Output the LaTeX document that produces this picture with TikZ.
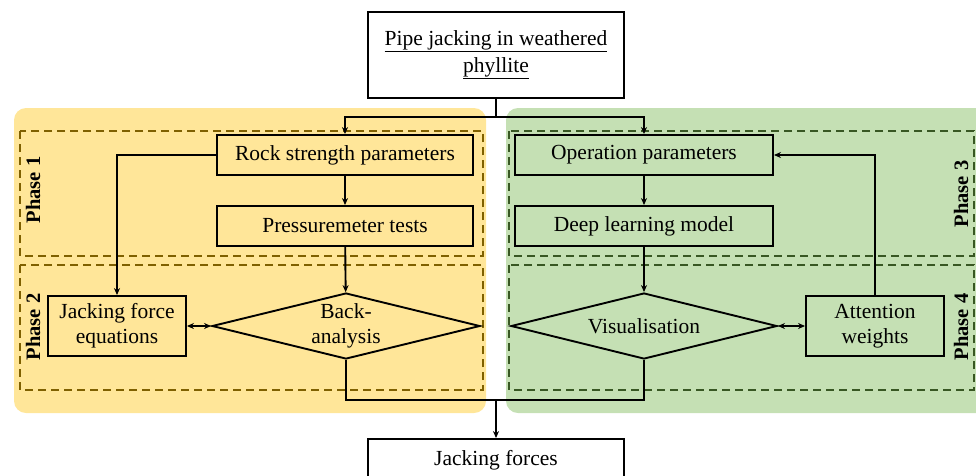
\documentclass[tikz,border=0pt]{standalone}
\usepackage{fontspec}
\setmainfont{Liberation Serif}
\usetikzlibrary{positioning,arrows.meta,shapes.geometric}
\definecolor{panelyellow}{HTML}{FFE699}
\definecolor{panelgreen}{HTML}{C5E0B4}
\definecolor{dashbrown}{HTML}{7F6000}
\definecolor{dashgreen}{HTML}{385723}

\begin{document}
\begin{tikzpicture}[x=1pt,y=-1pt,>={Stealth[length=7pt,width=6pt]},line width=1.9pt,
  font=\fontsize{21.5}{25}\selectfont,
  box/.style={draw,align=center,inner sep=2pt},
  decision/.style={draw,diamond,aspect=4,inner sep=0pt,align=center,minimum width=268pt,minimum height=66pt},
  phasebox/.style={dashed,dash pattern=on 8pt off 5pt,line width=1.8pt},
  phaselabel/.style={rotate=90,font=\fontsize{20.5}{24}\selectfont\bfseries}]
\useasboundingbox (0,0) rectangle (976,475);
\clip (0,0) rectangle (976,475);
\fill[panelyellow,rounded corners=12pt] (14,108) rectangle (486,413);
\fill[panelgreen,rounded corners=12pt] (506,108) rectangle (990,413);
\draw[phasebox,dashbrown] (20,131) rectangle (483,256);
\draw[phasebox,dashbrown] (20,265) rectangle (483,390);
\draw[phasebox,dashgreen] (509,131) rectangle (974,256);
\draw[phasebox,dashgreen] (509,265) rectangle (974,390);
\node[phaselabel] (p1) at (33,190) {Phase 1};
\node[phaselabel] (p2) at (33,327) {Phase 2};
\node[phaselabel] (p3) at (961,194) {Phase 3};
\node[phaselabel] (p4) at (961,327) {Phase 4};

\node[box,fill=white,minimum width=256pt,minimum height=86pt,
  font=\fontsize{21.5}{27}\selectfont] (top) at (496,55)
  {\underline{Pipe jacking in weathered}\\\underline{phyllite}};
\node[box,minimum width=256pt,minimum height=40pt] (rock) at (345,155) {Rock strength parameters};
\node[box,minimum width=256pt,minimum height=40pt] (press) at (345,226) {Pressuremeter tests};
\node[box,minimum width=138pt,minimum height=60pt] (jfe) at (117,326) {Jacking force\\equations};
\node[decision] (back) at (346,326) {Back-\\analysis};
\node[box,minimum width=258pt,minimum height=40pt] (op) at (644,155) {Operation parameters};
\node[box,minimum width=258pt,minimum height=40pt] (dlm) at (644,226) {Deep learning model};
\node[decision,minimum width=266pt] (vis) at (644,326) {Visualisation};
\node[box,minimum width=138pt,minimum height=60pt] (att) at (875,326) {Attention\\weights};
\node[box,fill=white,minimum width=256pt,minimum height=42pt] (jf) at (496,460) {Jacking forces};

\coordinate (split) at (496,117);
\coordinate (merge) at (496,400);
\draw (top) -- (split);
\draw[->] (split) -| (rock);
\draw[->] (split) -| (op);
\draw[->] (rock) -- (press);
\draw[->] (press) -- (back);
\draw[->] (rock.west) -| (jfe);
\draw[<->] (jfe.east) -- (back.west);
\draw[->] (op) -- (dlm);
\draw[->] (dlm) -- (vis);
\draw[<->] (vis.east) -- (att.west);
\draw[->] (att.north) |- (op.east);
\draw (back.south) |- (merge) -| (vis.south);
\draw[->] (merge) -- (jf);
\end{tikzpicture}
\end{document}
